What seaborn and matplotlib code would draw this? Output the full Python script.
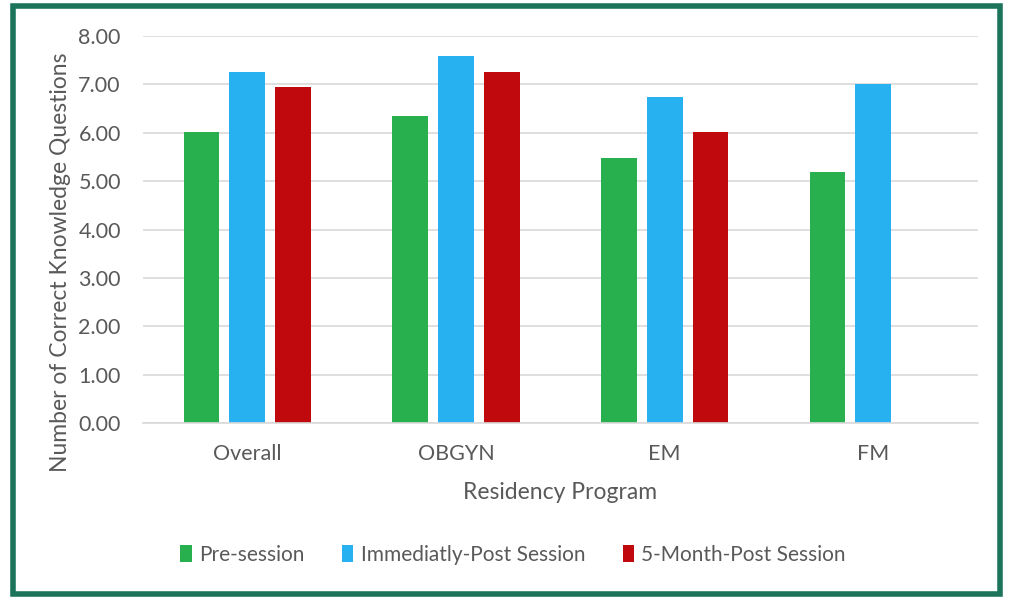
import matplotlib
matplotlib.use("Agg")
import matplotlib.pyplot as plt
import seaborn as sns
import pandas as pd
import numpy as np
from matplotlib.patches import Rectangle

programs = ["Overall", "OBGYN", "EM", "FM"]
series_names = ["Pre-session", "Immediatly-Post Session", "5-Month-Post Session"]
pre_session = [6.01, 6.34, 5.48, 5.19]
immediately_post = [7.25, 7.58, 6.74, 7.00]
five_month_post = [6.94, 7.25, 6.02, np.nan]
colors = ["#28b04f", "#27b1f0", "#c0090c"]

rows = []
for s, vals in zip(series_names, [pre_session, immediately_post, five_month_post]):
    for p, v in zip(programs, vals):
        rows.append({"program": p, "series": s, "value": v})
df = pd.DataFrame(rows)

sns.set_theme(style="white")
plt.rcParams["font.family"] = ["Lato", "DejaVu Sans"]

fig = plt.figure(figsize=(10.10, 6.01), dpi=100)
ax = fig.add_axes([0.1416, 0.296, 0.8264, 0.644])

sns.barplot(data=df, x="program", y="value", hue="series", order=programs,
            hue_order=series_names, palette=colors, width=0.66, gap=0.22,
            ax=ax, saturation=1, legend=True, edgecolor="none")

ax.set_ylim(0, 8)
ax.set_yticks(np.arange(0, 8.01, 1))
ax.set_yticklabels([f"{v:.2f}" for v in np.arange(0, 8.01, 1)])
ax.set_xlim(-0.5, 3.5)
ax.yaxis.grid(True, color="#d9d9d9", linewidth=1.2)
ax.set_axisbelow(True)
for s in ["top", "right", "left"]:
    ax.spines[s].set_visible(False)
ax.spines["bottom"].set_color("#d9d9d9")
ax.spines["bottom"].set_linewidth(1.2)
ax.tick_params(axis="both", length=0, labelsize=15.5, colors="#595959")
ax.tick_params(axis="y", pad=16)
ax.tick_params(axis="x", pad=15)
ax.set_xlabel("Residency Program", fontsize=16.5, color="#595959")
ax.xaxis.set_label_coords(0.5, 1 - (492 - 36) / (423 - 36), transform=ax.transAxes)
ax.set_ylabel("Number of Correct Knowledge Questions", fontsize=16.5, color="#595959")
ax.yaxis.set_label_coords(-(143 - 60) / 835, 1 - (262 - 36) / (423 - 36), transform=ax.transAxes)
ax.xaxis.label.set_va("center")
ax.yaxis.label.set_va("center")

leg = ax.legend(loc="center", ncol=3, frameon=False, fontsize=15, handlelength=0.55,
                handleheight=0.9, columnspacing=1.8, handletextpad=0.35, labelcolor="#595959")
leg.set_bbox_to_anchor((0.508, 1 - 555 / 601), transform=fig.transFigure)

fig.patches.append(Rectangle((13 / 1010, 1 - 594 / 601), (1000 - 13) / 1010, (594 - 6) / 601,
                             transform=fig.transFigure, fill=False, edgecolor="#1b735a",
                             linewidth=4, zorder=10))

fig.savefig("out.png", dpi=100)
